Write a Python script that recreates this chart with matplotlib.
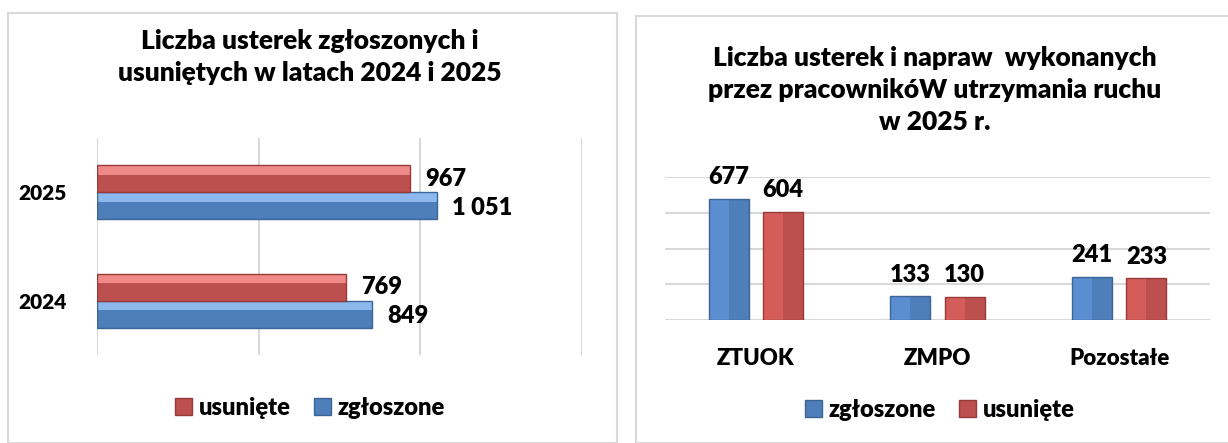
import matplotlib.pyplot as plt
from matplotlib.patches import Rectangle, Patch
import numpy as np

plt.rcParams['font.family'] = ['Lato', 'DejaVu Sans']
fw = 'heavy'

# left chart
years = ['2024', '2025']
zgloszone_lata = [849, 1051]
usuniete_lata = [769, 967]
labels_zgl_lata = ['849', '1 051']
labels_usu_lata = ['769', '967']

# right chart
units = ['ZTUOK', 'ZMPO', 'Pozostałe']
zgloszone_2025 = [677, 133, 241]
usuniete_2025 = [604, 130, 233]

blue = '#4F7FBA'
blue_light = '#8DB8EE'
blue_left = '#5A8ED0'
red = '#BC504E'
red_light = '#F08A88'
red_left = '#D45D5A'
blue_edge = '#3A6595'
red_edge = '#963B39'

fig = plt.figure(figsize=(12.28, 4.43), dpi=100)

# panel frames
fig.patches.append(Rectangle((8/1228, 0), 609/1228, 1-13/443, transform=fig.transFigure,
                             fill=False, edgecolor='#D9D9D9', linewidth=1.5))
fig.patches.append(Rectangle((636/1228, 0), 600/1228, 1-16/443, transform=fig.transFigure,
                             fill=False, edgecolor='#D9D9D9', linewidth=1.5))

# ---- left: horizontal bars
ax1 = fig.add_axes([97/1228, 1-355/443, 485/1228, 217/443])
y = np.arange(len(years))
h = 0.25
top = 0.35 * h
for vals, yy, c, cl, ce in [(zgloszone_lata, y - h/2, blue, blue_light, blue_edge),
                            (usuniete_lata, y + h/2, red, red_light, red_edge)]:
    ax1.barh(yy, vals, height=h, color=c, linewidth=0)
    ax1.barh(yy + h/2 - top/2, vals, height=top, color=cl, linewidth=0)
    ax1.barh(yy, vals, height=h, fill=False, edgecolor=ce, linewidth=1)
for i in range(len(years)):
    ax1.text(zgloszone_lata[i] + 48, y[i] - h/2 - 0.02, labels_zgl_lata[i], va='center', ha='left',
             fontsize=17, fontweight=fw)
    ax1.text(usuniete_lata[i] + 48, y[i] + h/2, labels_usu_lata[i], va='center', ha='left',
             fontsize=17, fontweight=fw)
ax1.set_xlim(0, 1500)
ax1.set_ylim(-0.5, 1.5)
ax1.set_xticks([0, 500, 1000, 1500])
ax1.set_xticklabels([])
ax1.set_yticks(y)
ax1.set_yticklabels(years, fontsize=15, fontweight=fw)
ax1.tick_params(length=0, pad=22)
ax1.grid(axis='x', color='#D9D9D9', linewidth=1.5)
ax1.set_axisbelow(True)
for s in ax1.spines.values():
    s.set_visible(False)

fig.text(310/1228, 1-57/443, 'Liczba usterek zgłoszonych i\nusuniętych w latach 2024 i 2025',
         ha='center', va='center', fontsize=19, fontweight=fw, linespacing=1.4)
fig.legend(handles=[Patch(facecolor=red, edgecolor=red_edge, label='usunięte'),
                    Patch(facecolor=blue, edgecolor=blue_edge, label='zgłoszone')],
           loc='center', bbox_to_anchor=(310/1228, 1-408/443), ncol=2, frameon=False,
           prop={'size': 17, 'weight': fw}, handlelength=0.7, handleheight=0.7,
           handletextpad=0.3, columnspacing=1.0)

# ---- right: vertical bars
ax2 = fig.add_axes([665/1228, 1-320/443, 545/1228, 143/443])
x = np.arange(len(units))
w = 0.22
off = 0.15
for vals, xx, c, cl, ce in [(zgloszone_2025, x - off, blue, blue_left, blue_edge),
                            (usuniete_2025, x + off, red, red_left, red_edge)]:
    ax2.bar(xx - w/4, vals, width=w/2, color=cl, linewidth=0)
    ax2.bar(xx + w/4, vals, width=w/2, color=c, linewidth=0)
    ax2.bar(xx, vals, width=w, fill=False, edgecolor=ce, linewidth=1)
for i in range(len(units)):
    ax2.text(x[i] - off, zgloszone_2025[i] + 60, str(zgloszone_2025[i]), ha='center', va='bottom',
             fontsize=17, fontweight=fw)
    ax2.text(x[i] + off, usuniete_2025[i] + 60, str(usuniete_2025[i]), ha='center', va='bottom',
             fontsize=17, fontweight=fw)
ax2.set_xlim(-0.5, 2.5)
ax2.set_ylim(0, 800)
ax2.set_yticks([0, 200, 400, 600, 800])
ax2.set_yticklabels([])
ax2.set_xticks(x)
ax2.set_xticklabels(units, fontsize=16, fontweight=fw)
ax2.tick_params(length=0, pad=20)
ax2.grid(axis='y', color='#D9D9D9', linewidth=1.5)
ax2.set_axisbelow(True)
for s in ax2.spines.values():
    s.set_visible(False)

fig.text(935/1228, 1-90/443, 'Liczba usterek i napraw  wykonanych\nprzez pracownikóW utrzymania ruchu\nw 2025 r.',
         ha='center', va='center', fontsize=19, fontweight=fw, linespacing=1.4)
fig.legend(handles=[Patch(facecolor=blue, edgecolor=blue_edge, label='zgłoszone'),
                    Patch(facecolor=red, edgecolor=red_edge, label='usunięte')],
           loc='center', bbox_to_anchor=(940/1228, 1-410/443), ncol=2, frameon=False,
           prop={'size': 17, 'weight': fw}, handlelength=0.7, handleheight=0.7,
           handletextpad=0.3, columnspacing=1.0)

fig.savefig('out.png', dpi=100)
